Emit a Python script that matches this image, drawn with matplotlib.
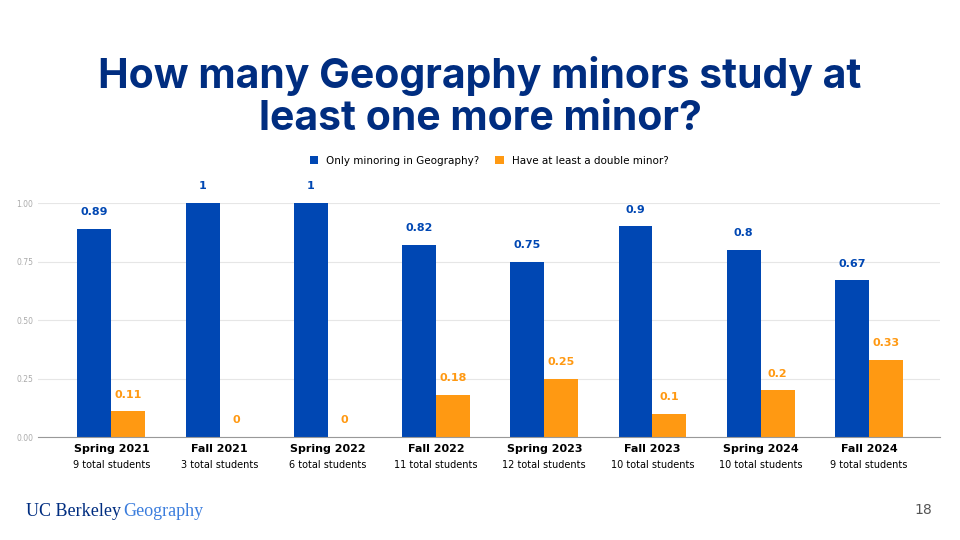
import matplotlib.pyplot as plt
import numpy as np

terms = ['Spring 2021', 'Fall 2021', 'Spring 2022', 'Fall 2022',
         'Spring 2023', 'Fall 2023', 'Spring 2024', 'Fall 2024']
totals = ['9 total students', '3 total students', '6 total students', '11 total students',
          '12 total students', '10 total students', '10 total students', '9 total students']
only_geo = [0.89, 1, 1, 0.82, 0.75, 0.9, 0.8, 0.67]
double = [0.11, 0, 0, 0.18, 0.25, 0.1, 0.2, 0.33]

blue = '#0047b3'
orange = '#ff9912'

fig = plt.figure(figsize=(9.6, 5.4), dpi=100)
fig.text(0.5, 0.82, 'How many Geography minors study at\nleast one more minor?',
         ha='center', va='center', fontsize=29.5, fontweight='bold', color='#002d80',
         family='Inter', linespacing=1.15)

ax = fig.add_axes([0.04, 0.1907, 0.939, 0.4333])
x = np.arange(len(terms))
w = 0.314
ax.bar(x - w / 2, only_geo, w, color=blue, label='Only minoring in Geography?')
ax.bar(x + w / 2, double, w, color=orange, label='Have at least a double minor?')
for i in x:
    ax.text(i - w / 2, only_geo[i] + 0.05, f'{only_geo[i]:g}', ha='center', va='bottom',
            color=blue, fontsize=8, fontweight='bold', clip_on=False)
    ax.text(i + w / 2, double[i] + 0.05, f'{double[i]:g}', ha='center', va='bottom',
            color=orange, fontsize=8, fontweight='bold', clip_on=False)

ax.set_xlim(-0.674, 7.655)
ax.set_ylim(0, 1.0)
ax.set_yticks([0, 0.25, 0.5, 0.75, 1.0])
ax.set_yticklabels(['0.00', '0.25', '0.50', '0.75', '1.00'], fontsize=5.5, color='#aaaaaa')
ax.set_xticks(x)
ax.set_xticklabels([])
for i in x:
    ax.text(i, -0.03, terms[i], ha='center', va='top', fontsize=8, fontweight='bold',
            clip_on=False)
    ax.text(i, -0.1, totals[i], ha='center', va='top', fontsize=7, clip_on=False)
ax.tick_params(length=0)
ax.grid(axis='y', color='#e6e6e6', linewidth=0.8)
ax.set_axisbelow(True)
for s in ['top', 'right', 'left']:
    ax.spines[s].set_visible(False)
ax.spines['bottom'].set_color('#999999')

ax.legend(loc='lower center', bbox_to_anchor=(0.5, 1.12), ncol=2, frameon=False,
          fontsize=7.5, handlelength=0.8, handleheight=0.8, columnspacing=1.5)

fig.text(0.027, 0.052, 'UC Berkeley', fontsize=13, color='#002d80', family='Liberation Serif',
         va='center')
fig.text(0.128, 0.052, 'Geography', fontsize=13, color='#3b7ddd', family='Liberation Serif',
         va='center')
fig.text(0.962, 0.055, '18', fontsize=10, color='#555555', ha='center', va='center')

fig.savefig('out.png', dpi=100)
